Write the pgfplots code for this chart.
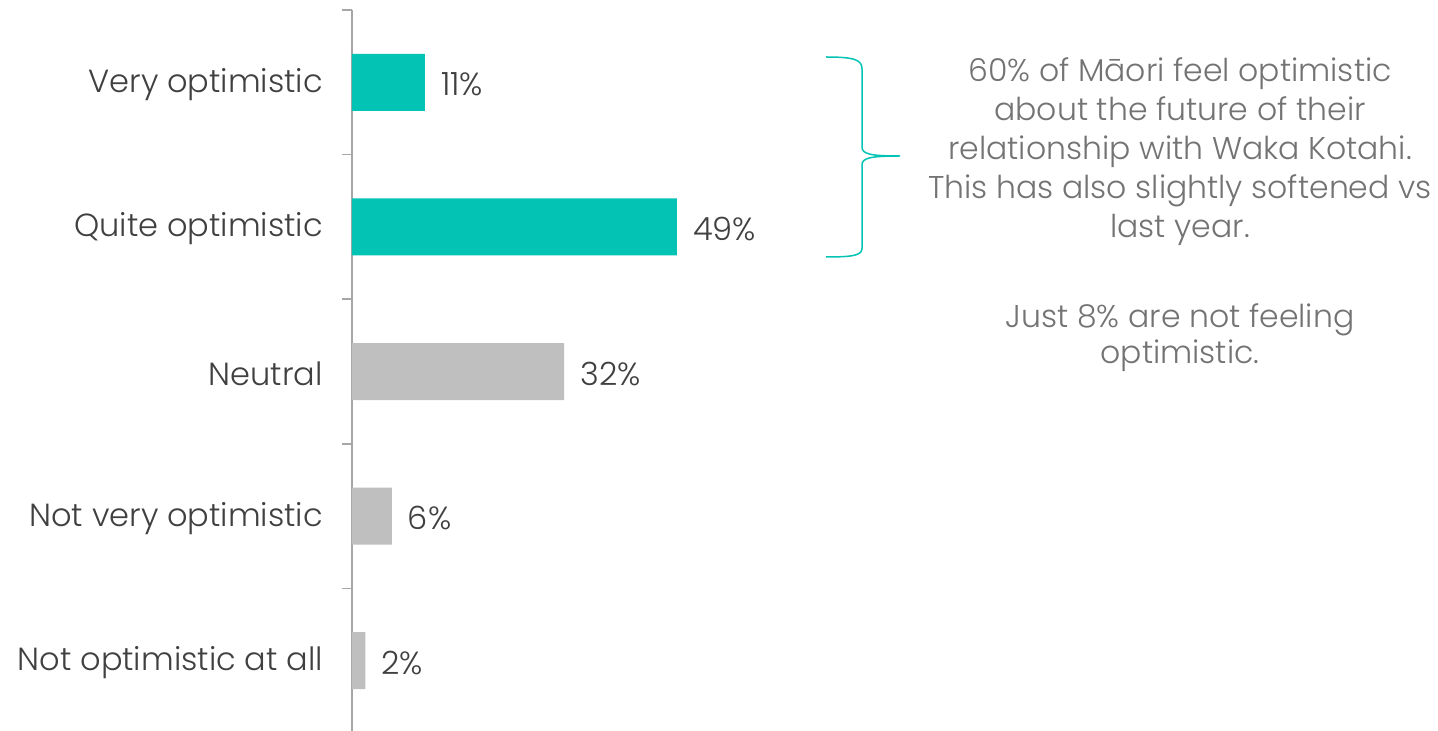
\documentclass[border=0pt]{standalone}
\usepackage{pgfplots}
\pgfplotsset{compat=1.18}
\usepackage{fontspec}
\IfFontExistsTF{Poppins Light}{\setmainfont{Poppins Light}}{\setmainfont{Poppins}}
\definecolor{myteal}{HTML}{03C4B4}
\definecolor{mygray}{HTML}{BFBFBF}
\definecolor{axgray}{HTML}{A6A6A6}
\definecolor{txt}{HTML}{404040}
\definecolor{note}{HTML}{737373}
\newcommand{\lab}{\fontsize{32}{38}\selectfont}
\newcommand{\nt}{\fontsize{31.5}{38}\selectfont}
\begin{document}
\begin{tikzpicture}[x=1pt,y=1pt]
\useasboundingbox (0pt,0pt) rectangle (1438pt,731pt);
\begin{axis}[
  at={(352pt,-2pt)}, anchor=south west,
  width=663pt, height=723pt, scale only axis,
  xmin=0, xmax=100, ymin=-0.5, ymax=4.5, y dir=reverse,
  hide x axis, axis y line*=left, clip=false,
  y axis line style={draw=axgray, line width=1.5pt},
  ytick={0,1,2,3,4},
  yticklabels={Very optimistic, Quite optimistic, Neutral, Not very optimistic, Not optimistic at all},
  minor ytick={-0.5,0.5,1.5,2.5,3.5},
  major tick length=0pt, minor tick length=10pt, tick align=outside,
  minor tick style={draw=axgray, line width=1.5pt},
  yticklabel style={font=\lab, text=txt, anchor=east, inner sep=0pt, xshift=-29pt, yshift=-2pt},
  xbar, bar width=57pt, bar shift=0pt,
  point meta=x,
  nodes near coords={\pgfmathprintnumber[assume math mode=true]{\pgfplotspointmeta}\%},
  nodes near coords style={font=\lab, text=txt, anchor=west, inner sep=0pt, xshift=16pt, yshift=-2pt},
]
\addplot[fill=myteal, draw=none] coordinates {(11,0) (49,1)};
\addplot[fill=mygray, draw=none] coordinates {(32,2) (6,3) (2,4)};
\end{axis}
\draw[myteal, line width=1.5pt] (826,674) .. controls (855,674) and (862,671) .. (862,662) -- (862,584) .. controls (862,577) and (870,575) .. (900,575)
  .. controls (870,575) and (862,573) .. (862,566) -- (862,483) .. controls (862,476) and (855,474) .. (826,474);
\begin{scope}[every node/.style={font=\nt, text=note, anchor=base, inner sep=0pt}]
\node at (1180,649) {60\% of Māori feel optimistic};
\node at (1180,610) {about the future of their};
\node at (1180,571) {relationship with Waka Kotahi.};
\node at (1180,532) {This has also slightly softened vs};
\node at (1180,493) {last year.};
\node at (1180,403) {Just 8\% are not feeling};
\node at (1180,367) {optimistic.};
\end{scope}
\end{tikzpicture}
\end{document}
